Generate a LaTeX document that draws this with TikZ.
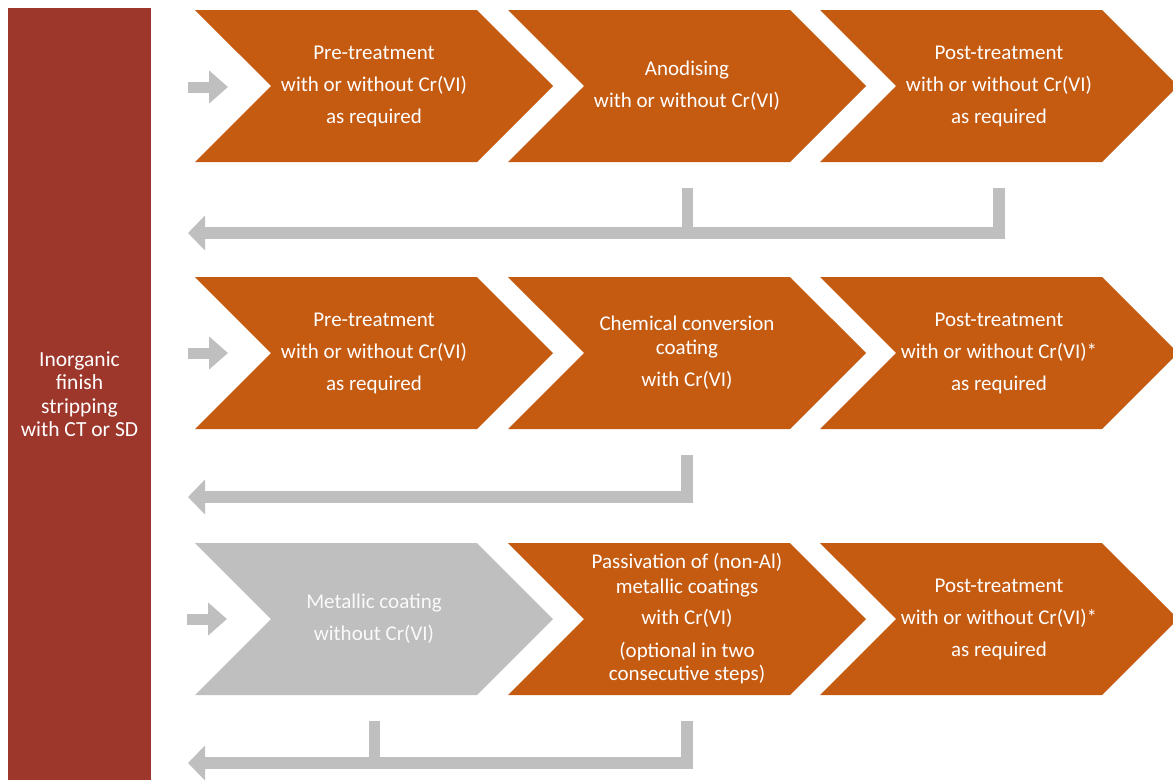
\documentclass[tikz,border=0pt]{standalone}
\usepackage{fontspec}
\setmainfont{Carlito}
\usetikzlibrary{shapes.symbols,arrows.meta}
\definecolor{rust}{HTML}{C55A11}
\definecolor{brick}{HTML}{9E372B}
\definecolor{ash}{HTML}{BFBFBF}
\tikzset{
  stage/.style={shape=signal, signal to=east, signal from=west,
    fill=rust, text=white, minimum width=358pt, minimum height=152pt,
    inner sep=0pt, outer sep=0pt, align=center,
    font=\fontsize{21}{32}\selectfont},
  stage off/.style={stage, fill=ash, text=white!92!ash},
  feed/.style={draw=ash, line width=11pt, -{Triangle[length=19pt,width=32pt]}},
  back/.style={draw=ash, line width=12pt, line join=miter,
    -{Triangle[length=17pt,width=34pt]}},
  stub/.style={draw=ash, line width=11pt},
}
\begin{document}
\begin{tikzpicture}[x=1pt,y=-1pt]
  \useasboundingbox (0,0) rectangle (1173,780);
  \clip (0,0) rectangle (1173,780);
  % stripping bar
  \node[fill=brick, text=white, minimum width=143pt, minimum height=772pt,
    inner sep=0pt, align=center, font=\fontsize{21.5}{23.5}\selectfont]
    (strip) at (79.5,394) {Inorganic\\finish\\stripping\\with CT or SD};
  % row 1
  \node[stage] (c11) at (374,86) {Pre-treatment\\with or without Cr(VI)\\as required};
  \node[stage] (c12) at (687,86) {Anodising\\with or without Cr(VI)};
  \node[stage] (c13) at (999,86) {Post-treatment\\with or without Cr(VI)\\as required};
  % row 2
  \node[stage] (c21) at (374,353) {Pre-treatment\\with or without Cr(VI)\\as required};
  \node[stage] (c22) at (687,353) {Chemical conversion\\[-8pt]coating\\with Cr(VI)};
  \node[stage] (c23) at (999,353) {Post-treatment\\with or without Cr(VI)*\\as required};
  % row 3
  \node[stage off] (c31) at (374,619) {Metallic coating\\without Cr(VI)};
  \node[stage] (c32) at (687,619) {Passivation of (non-Al)\\[-8pt]metallic coatings\\with Cr(VI)\\(optional in two\\[-8pt]consecutive steps)};
  \node[stage] (c33) at (999,619) {Post-treatment\\with or without Cr(VI)*\\as required};
  % entry arrows
  \coordinate (in1) at (188,87);
  \coordinate (in2) at (188,353);
  \coordinate (in3) at (187,619);
  \draw[feed] (in1) -- ++(40,0);
  \draw[feed] (in2) -- ++(40,0);
  \draw[feed] (in3) -- ++(40,0);
  % return arrows
  \coordinate (out1) at (188,233);
  \coordinate (out2) at (188,497);
  \coordinate (out3) at (188,763);
  \draw[back] ([yshift=-26pt]c13.south) |- (out1);
  \draw[stub] ([yshift=-26pt]c12.south) -- (c12.south |- out1);
  \draw[back] ([yshift=-26pt]c22.south) |- (out2);
  \draw[back] ([yshift=-26pt]c32.south) |- (out3);
  \draw[stub] ([yshift=-26pt]c31.south) -- (c31.south |- out3);
\end{tikzpicture}
\end{document}
